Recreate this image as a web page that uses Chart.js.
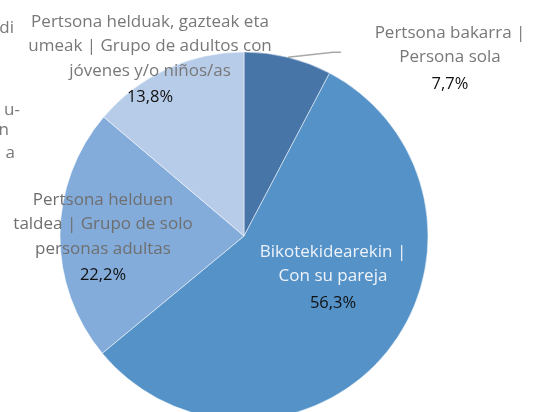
<!DOCTYPE html>
<html>
<head>
<meta charset="utf-8">
<script src="https://cdn.jsdelivr.net/npm/chart.js@4"></script>
<style>
  html, body { margin: 0; padding: 0; background: #fff; }
  #wrap { width: 536px; height: 412px; overflow: hidden; }
</style>
</head>
<body>
<div id="wrap"><canvas id="pieChart" width="536" height="412"></canvas></div>
<script>
// categories (already wrapped on lines like the picture)
var categories = [
    ['Pertsona bakarra |', 'Persona sola'],
    ['Bikotekidearekin |', 'Con su pareja'],
    ['Pertsona helduen', 'taldea | Grupo de solo', 'personas adultas'],
    ['Pertsona helduak, gazteak eta', 'umeak | Grupo de adultos con', 'jóvenes y/o niños/as']
];
var values = [7.7, 56.3, 22.2, 13.8];
var colors = ['#4775a8', '#5592c8', '#83acdb', '#b7cce8'];

// first text line of each label, relative to the pie centre
var labelOffset = [[206, -203], [89, 16], [-141, -36], [-94, -214]];
var labelColor = ['#787878', '#eef3fa', '#6f6f6f', '#787878'];

// cut-off text from the neighbouring panel, on the left edge
var leftBits = [['di', 14, 28], ['u-', 20, 110], ['n', 9, 130], ['a', 15, 153]];

var labelPlugin = {
    id: 'sliceLabels',
    afterDraw: function (chart) {
        var ctx = chart.ctx;
        var meta = chart.getDatasetMeta(0);
        ctx.save();
        ctx.textAlign = 'center';
        ctx.textBaseline = 'middle';
        meta.data.forEach(function (arc, i) {
            var p = arc.getProps(['x', 'y', 'startAngle', 'endAngle', 'outerRadius'], true);
            var cx = p.x + labelOffset[i][0];
            var top = p.y + labelOffset[i][1];
            var lines = categories[i];
            ctx.font = '17px "Open Sans"';
            ctx.fillStyle = labelColor[i];
            lines.forEach(function (l, k) {
                ctx.fillText(l, cx, top + k * 24.5);
            });
            ctx.font = '16.5px "Open Sans"';
            ctx.fillStyle = '#111111';
            ctx.fillText(values[i].toFixed(1).replace('.', ',') + '%', cx, top + (lines.length - 1) * 24.5 + 26.5);

            if (i === 0) {
                // leader line from the slice edge
                var mid = (p.startAngle + p.endAngle) / 2;
                var ex = p.x + Math.cos(mid) * p.outerRadius;
                var ey = p.y + Math.sin(mid) * p.outerRadius;
                ctx.strokeStyle = '#a8a8a8';
                ctx.lineWidth = 1.5;
                ctx.beginPath();
                ctx.moveTo(ex, ey);
                ctx.lineTo(ex + 45, ey - 5);
                ctx.lineTo(ex + 53, ey - 5);
                ctx.stroke();
            }
        });
        ctx.font = '17px "Open Sans"';
        ctx.fillStyle = '#787878';
        ctx.textAlign = 'right';
        leftBits.forEach(function (b) {
            ctx.fillText(b[0], b[1], b[2]);
        });
        ctx.restore();
    }
};

var ctx = document.getElementById('pieChart').getContext('2d');
var pieChart = new Chart(ctx, {
    type: 'pie',
    data: {
        labels: categories,
        datasets: [{
            data: values,
            backgroundColor: colors,
            borderColor: 'rgba(255,255,255,0.5)',
            borderWidth: 1
        }]
    },
    options: {
        responsive: false,
        animation: false,
        radius: 184,
        layout: {
            padding: { left: 0, right: 48, top: 60, bottom: 0 }
        },
        plugins: {
            legend: { display: false },
            tooltip: { enabled: false }
        }
    },
    plugins: [labelPlugin]
});
</script>
</body>
</html>
